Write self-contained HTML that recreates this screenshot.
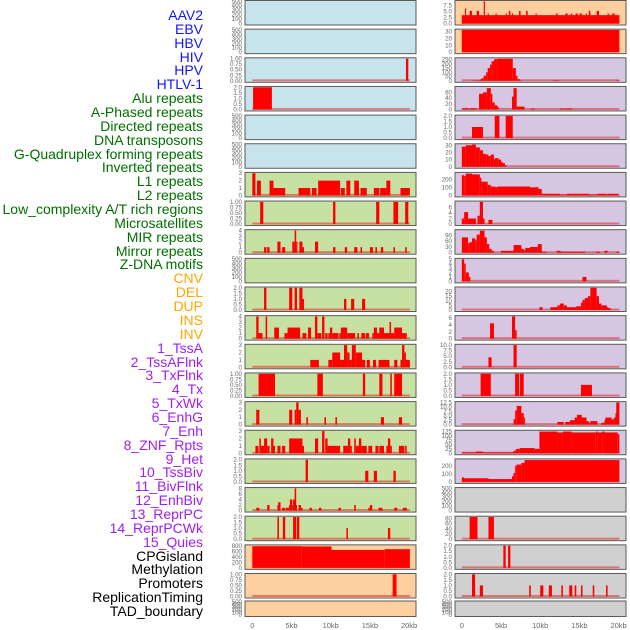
<!DOCTYPE html>
<html><head><meta charset="utf-8">
<style>
html,body{margin:0;padding:0;background:#fff;}
#wrap{position:relative;width:630px;height:630px;overflow:hidden;}
#labels{position:absolute;left:0;top:0;width:206px;height:630px;}
.lab{position:absolute;right:3px;font-family:"Liberation Sans",sans-serif;font-size:14px;line-height:14px;white-space:nowrap;}
svg{position:absolute;left:0;top:0;}
</style></head>
<body>
<div id="wrap">
<div id="labels"></div>
<svg id="svg" width="630" height="630"></svg>
</div>
<script>
const trackNames = ["AAV2","EBV","HBV","HIV","HPV","HTLV-1","Alu repeats","A-Phased repeats","Directed repeats","DNA transposons","G-Quadruplex forming repeats","Inverted repeats","L1 repeats","L2 repeats","Low_complexity A/T rich regions","Microsatellites","MIR repeats","Mirror repeats","Z-DNA motifs","CNV","DEL","DUP","INS","INV","1_TssA","2_TssAFlnk","3_TxFlnk","4_Tx","5_TxWk","6_EnhG","7_Enh","8_ZNF_Rpts","9_Het","10_TssBiv","11_BivFlnk","12_EnhBiv","13_ReprPC","14_ReprPCWk","15_Quies","CPGisland","Methylation","Promoters","ReplicationTiming","TAD_boundary"];
const trackColors = ["#1414ff","#1414ff","#1414ff","#1414ff","#1414ff","#1414ff","#007000","#007000","#007000","#007000","#007000","#007000","#007000","#007000","#007000","#007000","#007000","#007000","#007000","#ffa500","#ffa500","#ffa500","#ffa500","#ffa500","#a020f0","#a020f0","#a020f0","#a020f0","#a020f0","#a020f0","#a020f0","#a020f0","#a020f0","#a020f0","#a020f0","#a020f0","#a020f0","#a020f0","#a020f0","#000","#000","#000","#000","#000"];
const xTicks = [0,5,10,15,20];
const xTickLabels = ["0","5kb","10kb","15kb","20kb"];

// Left column segments [startKb, endKb, value]
const segL0 = [], segL1 = [];
const segL2 = [[19.6,19.9,1]];
const segL3 = [[0.1,2.5,2]];
const segL4 = [], segL5 = [];
const segL6 = [[0,0.4,3],[0.6,1.1,2],[2.2,2.7,2],[2.7,4.2,1],[5.9,7.4,1],[7.6,8.2,1],[8.4,11.2,2],[11.3,11.8,1],[12.0,12.5,2],[13.0,13.6,2],[13.8,14.6,1],[15.5,16.2,1],[16.3,17.1,1],[17.1,17.6,2],[18.9,20.1,1]];
const segL7 = [[1.0,1.4,1],[10.3,10.6,1],[15.8,16.2,1],[18.0,18.6,1],[19.5,19.9,1]];
const segL8 = [[1.5,1.8,1],[1.9,2.2,1],[3.2,3.6,2],[3.8,4.2,1],[5.1,5.4,2],[5.4,5.6,4],[5.6,5.7,2],[6.0,6.4,2],[6.4,6.6,1],[8.0,8.4,2],[10.3,10.6,1],[11.8,12.1,1],[13.0,13.4,1],[13.8,14.0,1],[15.0,15.4,1],[15.7,15.9,1],[16.4,16.7,1],[18.0,18.2,1],[19.5,19.7,1]];
const segL9 = [];
const segL10 = [[1.5,1.8,2],[4.7,5.1,2],[5.4,5.7,2],[6.0,6.4,2],[6.4,6.6,1],[11.7,12.0,1],[12.6,13.0,1],[14.0,14.4,1]];
const segL11 = [[0.5,0.8,4],[0.8,1.3,1],[1.7,1.9,4],[2.8,3.4,2],[4.1,4.5,1],[4.5,6.1,2],[6.4,6.9,1],[7.1,7.5,2],[8.0,8.3,4],[8.3,8.8,1],[8.9,9.2,4],[9.3,9.6,1],[9.7,9.9,1],[9.9,10.2,2],[10.2,11.0,1],[11.1,11.3,1],[11.3,12.1,2],[12.1,13.1,1],[13.4,13.6,1],[13.9,14.4,1],[14.5,14.9,1],[15.3,15.5,1],[15.5,15.9,2],[15.9,16.2,1],[16.2,16.8,2],[16.8,17.5,1],[17.5,17.7,3],[17.7,18.1,1],[18.1,19.1,2],[19.1,19.7,1]];
const segL12 = [[7.4,8.5,1],[9.7,10.2,1],[10.2,11.2,2],[11.2,11.7,1],[11.7,12.1,3],[12.1,12.4,2],[12.4,12.7,1],[12.7,13.2,3],[13.2,14.0,2],[14.0,14.4,1],[14.6,15.0,1],[15.4,15.8,1],[16.1,17.5,1],[18.1,18.5,1],[18.9,19.1,1],[19.1,19.4,3],[19.4,19.6,2],[19.6,20.1,1]];
const segL13 = [[0.8,2.9,1],[8.3,9.0,1],[14.1,14.4,1],[16.2,16.6,1],[17.6,17.8,1],[18.1,19.1,1]];
const segL14 = [[0.5,0.9,2],[4.7,5.1,2],[5.4,5.6,2],[5.6,5.9,3],[5.9,6.2,2],[6.9,7.1,1],[9.2,9.4,1],[10.6,10.8,1],[16.4,16.8,1],[18.7,19.1,1]];
const segL15 = [[0.4,0.8,1],[0.9,1.1,2],[1.1,1.5,1],[1.5,1.9,2],[1.9,2.2,1],[2.4,2.7,2],[2.7,2.9,1],[3.2,3.6,1],[3.8,4.2,1],[4.7,6.4,2],[6.4,6.6,1],[8.0,8.4,2],[8.9,9.2,3],[9.3,9.6,2],[9.6,11.2,1],[11.6,12.2,1],[12.2,12.5,2],[12.5,12.7,1],[13.0,13.2,2],[13.2,13.6,1],[13.6,13.9,2],[13.9,14.6,1],[14.8,15.3,1],[15.7,16.1,1],[16.2,16.8,1],[17.1,17.3,1],[17.3,17.6,2],[17.6,17.8,1],[18.7,19.4,1],[19.5,19.7,1]];
const segL16 = [[6.8,7.1,2],[14.4,14.8,1],[15.5,15.9,1],[18.0,18.3,1]];
const segL17 = [[0.5,0.9,1],[1.9,2.2,2],[3.2,3.4,2],[3.3,3.6,3],[3.8,4.2,1],[4.3,4.7,1],[4.7,5.0,2],[4.8,5.1,4],[5.1,5.4,2],[5.2,5.5,4],[5.4,5.6,8],[5.5,5.7,2],[5.9,6.2,2],[6.2,6.4,1],[7.3,7.6,1],[8.5,8.8,1],[11.0,11.3,1],[13.0,13.2,2],[14.8,15.0,1],[15.0,15.3,2],[16.1,16.6,1],[18.1,18.5,1],[19.2,19.7,1]];
const segL18 = [[3.2,3.4,2],[3.9,4.2,2],[5.2,5.6,2],[5.7,6.0,2],[12.0,12.2,1],[17.3,17.6,1]];
const segL19 = [[0,6.3,800],[6.3,10.1,790],[10.1,16.9,660],[16.9,20.1,690]];
const segL20 = [[17.9,18.4,1]];
const segL21 = [];

// Right column segments
const segR0 = [[0,20.1,3.5],[0.4,0.5,6.3],[1.0,1.3,5.3],[1.9,2.2,5.3],[2.8,2.9,9.5],[3.3,3.4,4.2],[4.3,4.4,4.2],[5.6,5.7,4.2],[6.0,6.2,5.3],[6.4,6.5,4.2],[7.3,7.5,5.3],[8.2,8.4,5.3],[9.4,9.5,4.2],[12.0,12.2,4.2],[13.2,13.5,4.2],[13.9,14.1,4.2],[14.5,14.8,4.2],[15.0,15.3,4.2],[15.8,15.9,4.2],[16.2,16.4,5.3],[17.2,17.5,5.3],[18.6,18.7,4.2],[19.2,19.5,4.2]];
const segR1 = [[0,20.1,33]];
const segR2 = [[1.4,2.3,5],[2.3,2.5,15],[2.5,2.8,30],[2.8,3.1,60],[3.1,3.3,100],[3.3,3.6,150],[3.6,3.8,190],[3.8,4.1,230],[4.1,4.5,255],[4.5,6.5,260],[6.5,6.9,150],[6.9,7.1,60],[7.1,7.4,20],[7.4,7.6,5],[11.7,12.4,5],[19.7,20.1,5]];
const segR3 = [[0,0.9,4],[1.0,1.9,4],[2.2,2.7,55],[2.7,3.2,60],[3.2,3.7,75],[3.7,3.9,55],[3.9,4.2,25],[4.2,4.5,15],[4.5,4.7,10],[6.4,6.6,45],[6.6,7.0,75],[7.0,8.0,10],[8.8,9.3,3],[12.5,13.1,3],[13.2,14.1,3]];
const segR4 = [[1.3,2.7,1],[4.2,4.8,2],[5.6,6.5,2]];
const segR5 = [[0,0.5,28],[0.5,1.3,30],[1.3,1.8,31],[1.8,2.3,27],[2.3,2.7,23],[2.7,3.1,18],[3.1,3.4,17],[3.4,3.7,15],[3.7,4.1,17],[4.1,4.2,10],[4.2,4.7,12],[4.7,5.0,10],[5.0,5.2,7],[5.2,5.5,5],[5.5,5.7,2]];
const segR6 = [[0,0.3,250],[0.3,0.5,240],[0.5,1.3,270],[1.3,2.3,260],[2.3,2.5,220],[2.5,3.3,170],[3.3,3.7,130],[3.7,4.3,110],[4.3,4.5,100],[4.5,8.7,110],[8.7,9.8,100],[9.8,10.2,80],[10.2,12.5,20],[12.5,13.4,10],[13.4,16.2,20],[16.2,17.3,10],[17.3,18.5,20],[18.5,18.6,10],[18.6,19.9,20],[19.9,20.1,10]];
const segR7 = [[0,0.3,2],[0.3,0.8,4.3],[0.8,0.9,2],[0.9,1.8,2],[2.0,2.3,3],[2.3,2.7,8],[2.7,2.9,2],[3.4,3.9,1.5]];
const segR8 = [[0,0.8,80],[0.8,1.0,50],[1.0,1.3,55],[1.3,1.7,75],[1.7,1.9,65],[1.9,2.3,95],[2.3,2.9,115],[2.9,3.2,80],[3.2,3.5,45],[3.5,3.8,20],[3.8,4.1,10],[5.0,6.6,10],[6.6,7.6,40],[7.6,7.9,20],[7.9,8.1,15],[8.1,8.7,25],[8.7,9.7,30],[9.7,10.2,45],[10.2,10.8,5],[12.1,12.6,10],[12.6,15.8,5],[17.1,17.6,5],[18.2,18.6,10],[19.7,20.1,5]];
const segR9 = [[0,0.3,5],[0.3,0.5,4],[0.5,0.9,2],[0.9,1.1,1],[15.4,15.9,1]];
const segR10 = [[9.9,10.3,3],[11.3,12.2,3],[12.2,12.5,5],[12.5,13.0,7],[13.0,13.4,5],[13.4,14.6,3],[14.6,15.2,4],[15.2,15.4,8],[15.4,15.7,11],[15.7,16.1,13],[16.1,16.4,15],[16.4,17.2,24],[17.2,17.5,15],[17.5,17.8,7],[17.8,18.5,5],[18.5,18.7,3],[18.7,19.0,2]];
const segR11 = [[3.6,4.1,4.5],[6.4,6.8,6.5],[6.8,7.0,2.5]];
const segR12 = [[3.4,3.8,4.5],[6.6,7.0,10]];
const segR13 = [[2.4,3.7,2],[6.8,7.3,2],[7.4,7.9,2],[15.2,16.6,1]];
const segR14 = [[6.6,6.8,3],[6.8,7.0,8],[7.0,7.6,10.5],[7.6,7.9,6.5],[7.9,8.0,4],[12.2,13.0,1.5],[13.2,13.8,1.5],[13.8,14.4,2.5],[14.4,14.7,4],[14.7,15.3,5.5],[15.3,15.9,4],[15.9,16.2,2],[16.2,16.4,1],[16.4,17.3,2],[17.8,18.2,1],[18.2,18.3,2.5],[18.3,19.1,4],[19.1,19.4,3],[19.4,19.6,4],[19.6,19.7,6.5],[19.7,20.1,12.5]];
const segR15 = [[0,1.8,5],[1.8,2.7,10],[2.7,6.6,5],[6.6,6.9,15],[6.9,7.4,25],[7.4,9.3,30],[9.3,9.9,25],[9.9,12.2,125],[12.2,12.9,120],[12.9,14.0,125],[14.0,17.1,120],[17.1,17.3,125],[17.3,17.9,120],[17.9,18.2,125],[18.2,19.9,120],[19.9,20.1,110]];
const segR16 = [[0,0.3,55],[0.3,3.4,45],[3.4,6.4,35],[6.4,6.6,70],[6.6,6.8,110],[6.8,7.0,200],[7.0,7.6,215],[7.6,8.0,235],[8.0,20.1,270]];
const segR17 = [];
const segR18 = [[1.0,2.0,85],[3.4,4.1,85]];
const segR19 = [[5.3,5.6,2],[5.9,6.2,2]];
const segR20 = [[1.3,1.7,2],[2.3,2.7,1],[8.6,8.8,1],[10.0,10.4,1],[11.1,11.5,1],[12.7,12.9,1],[13.7,14.1,1],[14.4,14.6,1],[15.2,15.4,1],[16.7,16.9,1],[18.4,18.6,1]];
const segR21 = [];

// Y-axis maxima and tick labels per panel
const yMaxL = [500,500,1,2,500,500,3,1,4,500,2,4,3,1,3,3,2,8,2,820,1,500];
const yMaxR = [9.3,32.5,262,78,2,31,275,8,116,5,24,6.5,10,2,12.5,128,275,500,85,2,2,500];
const T500 = ["0","100","200","300","400","500"], T1 = ["0.00","0.25","0.50","0.75","1.00"], T2 = ["0.0","0.5","1.0","1.5","2.0"];
const ticksL = [T500,T500,T1,T2,T500,T500,["0","1","2","3"],T1,["0","1","2","3","4"],T500,T2,["0","1","2","3","4"],["0","1","2","3"],T1,["0","1","2","3"],["0","1","2","3"],T2,["0","2","4","6","8"],T2,["0","200","400","600","800"],T1,T500];
const ticksR = [["0.0","2.5","5.0","7.5"],["0","10","20","30"],["0","50","100","150","200","250"],["0","20","40","60"],T2,["0","10","20","30"],["0","100","200"],["0","2","4","6"],["0","30","60","90"],["0","1","2","3","4","5"],["0","5","10","15","20"],["0","2","4","6"],["0.0","2.5","5.0","7.5","10.0"],T2,["0.0","2.5","5.0","7.5","10.0","12.5"],["0","25","50","75","100","125"],["0","100","200"],T500,["0","20","40","60","80"],T2,T2,T500];

const segsL = [segL0,segL1,segL2,segL3,segL4,segL5,segL6,segL7,segL8,segL9,segL10,segL11,segL12,segL13,segL14,segL15,segL16,segL17,segL18,segL19,segL20,segL21];
const segsR = [segR0,segR1,segR2,segR3,segR4,segR5,segR6,segR7,segR8,segR9,segR10,segR11,segR12,segR13,segR14,segR15,segR16,segR17,segR18,segR19,segR20,segR21];
const bgL = i => i<6 ? "#c7e4ec" : (i<19 ? "#c7e1a2" : "#ffd09f");
const bgR = i => i<2 ? "#ffd09f" : (i<17 ? "#d6c6e2" : "#d0d0d0");

const NS = "http://www.w3.org/2000/svg";
const svg = document.getElementById("svg");
function mk(tag, attrs, parent){ const e=document.createElementNS(NS,tag); for(const k in attrs) e.setAttribute(k,attrs[k]); (parent||svg).appendChild(e); return e; }

// labels
const labDiv = document.getElementById("labels");
trackNames.forEach((n,k)=>{
  const d=document.createElement("div");
  d.className="lab";
  d.style.top=(8+k*13.86)+"px";
  d.style.color=trackColors[k];
  d.textContent=n;
  
  
  labDiv.appendChild(d);
});

function rowGeom(i){ return i<21 ? {top:i*28.65+0.5, h:24.5} : {top:601, h:15.5}; }

function drawPanel(col, i, segs, ymax, ticks, bg){
  const pl = col===0 ? 245 : 455, pr = col===0 ? 416 : 626;
  const x0 = col===0 ? 252.3 : 461.8, kbPx = 7.84;
  const xs = kb => x0 + kb*kbPx;
  const g = rowGeom(i);
  const yb = g.top + g.h - 1.5, yt = g.top + 0.8;
  const ys = v => yb - (Math.min(v,ymax)/ymax)*(yb-yt);
  const grp = mk("g",{});
  
  
  mk("rect",{x:pl,y:g.top,width:pr-pl,height:g.h,fill:bg,stroke:"#5a5a5a","stroke-width":1},grp);
  if(segs.length){
    mk("rect",{x:xs(0),y:yb-1.5,width:xs(20.1)-xs(0),height:2,fill:"rgba(230,40,40,0.55)"},grp);
  }
  segs.forEach(s=>{
    const r = mk("rect",{x:xs(s[0]),y:ys(s[2]),width:Math.max(1.2,xs(s[1])-xs(s[0])),height:yb-ys(s[2]),fill:"#ff0000"},grp);
    
    
  });
  const n = ticks.length;
  ticks.forEach((t,k)=>{
    const v = parseFloat(t);
    const tmax = ymax;
    let y = ys(v);
    if(ticks===T500 && i===21) y = yb - (k/(n-1))*(yb-yt);
    const tx = mk("text",{x:pl-3,y:y+2,"font-size":6.2,"text-anchor":"end",fill:"#666","font-family":"Liberation Sans, sans-serif"},grp);
    tx.textContent=t;
    
    
  });
}
for(let i=0;i<22;i++){
  drawPanel(0,i,segsL[i],yMaxL[i],ticksL[i],bgL(i));
  drawPanel(1,i,segsR[i],yMaxR[i],ticksR[i],bgR(i));
}
// x axes
[252.3,461.8].forEach(x0=>{
  xTicks.forEach((t,k)=>{
    const tx = mk("text",{x:x0+t*7.84,y:628,"font-size":7.5,"text-anchor":"middle",fill:"#666","font-family":"Liberation Sans, sans-serif"});
    tx.textContent=xTickLabels[k];
    
    
  });
});
</script>
</body></html>
